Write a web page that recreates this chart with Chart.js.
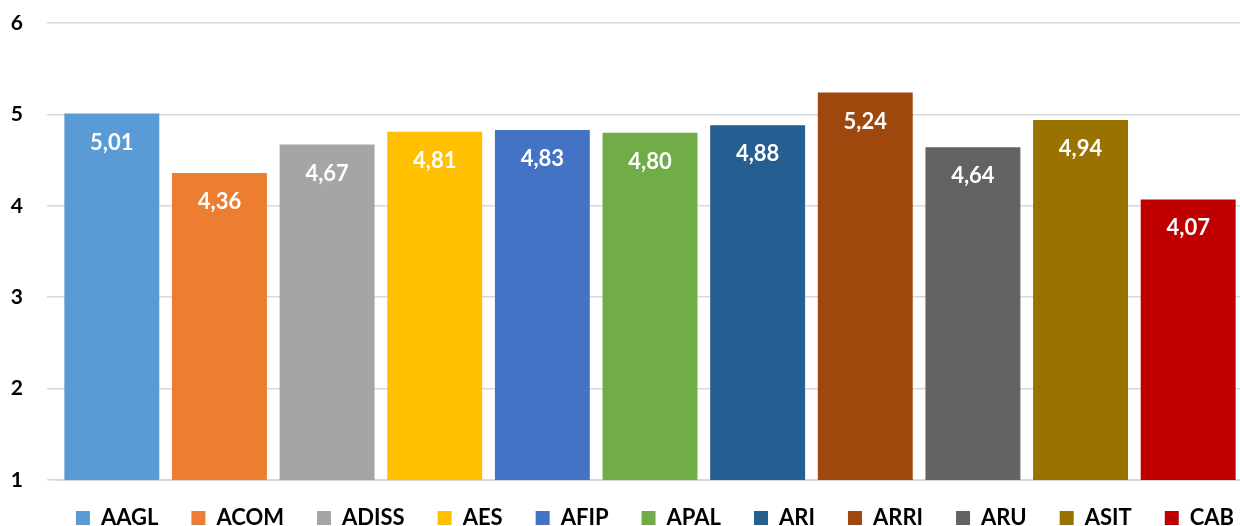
<!DOCTYPE html>
<html>
<head>
<meta charset="utf-8">
<script src="https://cdn.jsdelivr.net/npm/chart.js@4.4.1/dist/chart.umd.min.js"></script>
<style>
  html, body { margin: 0; padding: 0; background: #fff; overflow: hidden; }
</style>
</head>
<body>
<canvas id="myChart" width="1244" height="526"></canvas>
<script>
const labels = ['AAGL', 'ACOM', 'ADISS', 'AES', 'AFIP', 'APAL', 'ARI', 'ARRI', 'ARU', 'ASIT', 'CAB'];
const values = [5.01, 4.36, 4.67, 4.81, 4.83, 4.80, 4.88, 5.24, 4.64, 4.94, 4.07];
const colors = ['#5B9BD5', '#ED7D31', '#A5A5A5', '#FFC000', '#4472C4', '#70AD47',
                '#255E91', '#9E480E', '#636363', '#997300', '#C00000'];
const yTicks = [1, 2, 3, 4, 5, 6];

const FONT = 'Lato, "Open Sans", sans-serif';

// white value labels inside the top of each bar
const valueLabels = {
  id: 'valueLabels',
  afterDatasetsDraw(chart) {
    const ctx = chart.ctx;
    const meta = chart.getDatasetMeta(0);
    ctx.save();
    ctx.font = 'bold 22px ' + FONT;
    ctx.fillStyle = '#ffffff';
    ctx.textAlign = 'center';
    ctx.textBaseline = 'middle';
    meta.data.forEach((bar, i) => {
      const txt = values[i].toFixed(2).replace('.', ',');
      ctx.fillText(txt, bar.x, bar.y + 29);
    });
    ctx.restore();
  }
};

// legend sits closer to the axis and a bit to the right of where chart.js puts it
// (legend clips to its own box, so keep the bottom where it is)
const legendNudge = {
  id: 'legendNudge',
  afterLayout(chart) {
    const lg = chart.legend;
    if (lg) {
      lg.top -= 6;
      lg.height += 6;
      lg.left += 34;
      lg.right += 34;
    }
  }
};

const data = {
  labels: labels,
  datasets: [{
    label: 'Media',
    data: values,
    backgroundColor: colors,
    borderWidth: 0,
    categoryPercentage: 1,
    barPercentage: 0.882
  }]
};

const config = {
  type: 'bar',
  data: data,
  plugins: [valueLabels, legendNudge],
  options: {
    responsive: false,
    animation: false,
    layout: { padding: { top: 23, right: 2, left: 0, bottom: 0 } },
    plugins: {
      tooltip: { enabled: false },
      legend: {
        position: 'bottom',
        maxHeight: 46,
        labels: {
          boxWidth: 14,
          boxHeight: 14,
          padding: 33,
          color: '#000',
          font: { family: FONT, size: 22, weight: 'bold' },
          generateLabels(chart) {
            return labels.map((l, i) => ({
              text: l,
              fillStyle: colors[i],
              strokeStyle: colors[i],
              lineWidth: 0,
              fontColor: '#000',
              index: i
            }));
          }
        },
        onClick: null
      }
    },
    scales: {
      x: {
        ticks: { display: false },
        grid: { display: false },
        border: { color: '#d9d9d9', width: 2 },
        afterFit(axis) { axis.height = 0; }
      },
      y: {
        min: 1,
        max: 6,
        afterBuildTicks(axis) {
          axis.ticks = yTicks.map(v => ({ value: v }));
        },
        afterFit(axis) {
          axis.width = 58;
          axis.paddingTop = 0;
          axis.paddingBottom = 0;
        },
        ticks: {
          color: '#000',
          padding: 24,
          font: { family: FONT, size: 21, weight: 'bold' }
        },
        grid: {
          color: '#d9d9d9',
          lineWidth: 1.5,
          drawTicks: true,
          tickLength: 11
        },
        border: { display: false }
      }
    }
  }
};

var myChart = new Chart(document.getElementById('myChart'), config);
</script>
</body>
</html>
